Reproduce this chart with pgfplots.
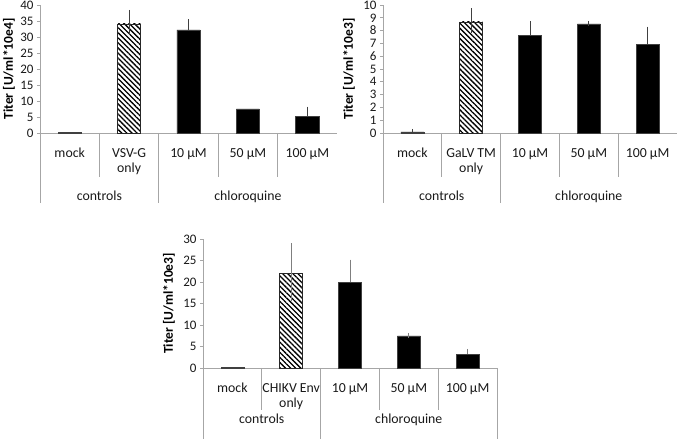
\documentclass[border=0pt]{standalone}
\usepackage{fontspec}
\setmainfont{Carlito}
\usepackage{pgfplots}
\pgfplotsset{compat=1.18}
\usetikzlibrary{patterns.meta}
\definecolor{axgray}{HTML}{A6A6A6}
\definecolor{errgray}{HTML}{404040}
\definecolor{errlight}{HTML}{7F7F7F}
\pgfplotsset{
  titer/.style={
    scale only axis, height=128pt,
    ymin=0, xmin=-0.5, xmax=4.5,
    axis x line=bottom, axis y line=left,
    axis line style={-, draw=axgray, line width=0.8pt},
    xtick={0,...,4}, xtick style={draw=none},
    ytick style={draw=axgray, line width=0.8pt}, tick align=outside, major tick length=3pt,
    /pgf/number format/assume math mode=true,
    yticklabel style={font=\fontsize{13}{15}\selectfont, text=black!90},
    xticklabel style={font=\fontsize{13.8}{15.5}\selectfont, align=center, anchor=north, inner sep=0pt, yshift=-12pt, text=black!90},
    clip=false,
    ybar, bar shift=0pt, bar width=0.39,
  },
  blackbar/.style={fill=black, draw=errgray, line width=0.6pt},
  hatchbar/.style={pattern={Lines[angle=-45,distance=3.6pt,line width=1.3pt]}, draw=black!85, line width=0.7pt},
  errplus/.style={error bars/.cd, y dir=plus, y explicit,
    error bar style={#1, line width=0.7pt},
    error mark options={#1, mark size=2.6pt, line width=0.7pt}},
  errplus/.default=errgray,
  errminus/.style={draw=none, fill=none, error bars/.cd, y dir=minus, y explicit, error mark=none,
    error bar style={#1, line width=0.7pt}},
  errminus/.default=errgray,
}
\tikzset{
  lab/.style={font=\fontsize{13.8}{16}\selectfont, text=black!90, anchor=base},
  ylab/.style={font=\bfseries\fontsize{13.5}{16}\selectfont, rotate=90, anchor=center},
  div/.style={axgray, line width=0.8pt},
}
\begin{document}
\begin{tikzpicture}
\useasboundingbox (0,0) rectangle (678pt,439pt);

% Panel 1
\begin{axis}[titer, at={(40pt,306pt)}, anchor=south west, width=297pt,
  ymax=40, ytick={0,5,...,40},
  xticklabels={mock,{VSV-G\\only},10 µM,50 µM,100 µM}]
\addplot[blackbar] table[x=x,y=y] {
x y
0 0.2
3 7.5
};
\addplot[blackbar, errplus] table[x=x,y=y,y error=e] {
x y e
2 32.2 2.6
4 5.2 2.2
};
\addplot[hatchbar, errplus] table[x=x,y=y,y error=e] {
x y e
1 34.1 3.6
};
\addplot[errminus] table[x=x,y=y,y error=e] {
x y e
1 34.1 3.6
};
\draw[div] (axis cs:0.5,0) -- ([yshift=-44pt]axis cs:0.5,0);
\draw[div] (axis cs:2.5,0) -- ([yshift=-44pt]axis cs:2.5,0);
\draw[div] (axis cs:3.5,0) -- ([yshift=-44pt]axis cs:3.5,0);
\draw[div] (axis cs:-0.5,0) -- ([yshift=-70pt]axis cs:-0.5,0);
\draw[div] (axis cs:1.5,0) -- ([yshift=-70pt]axis cs:1.5,0);
\node[lab] at ([yshift=-67.5pt]axis cs:0.5,0) {controls};
\node[lab] at ([yshift=-67.5pt]axis cs:3,0) {chloroquine};
\node[ylab] at ([xshift=-31pt]axis description cs:0,0.5) {Titer [U/ml*10e4]};
\end{axis}

% Panel 2
\begin{axis}[titer, at={(383pt,306pt)}, anchor=south west, width=294pt,
  ymax=10, ytick={0,1,...,10},
  xticklabels={mock,{GaLV TM\\only},10 µM,50 µM,100 µM}]
\addplot[blackbar, errplus] table[x=x,y=y,y error=e] {
x y e
0 0.08 0.03
2 7.61 0.92
3 8.52 0.03
4 6.9 1.2
};
\addplot[hatchbar, errplus] table[x=x,y=y,y error=e] {
x y e
1 8.68 0.87
};
\addplot[errminus] table[x=x,y=y,y error=e] {
x y e
1 8.68 0.87
};
\draw[div] (axis cs:0.5,0) -- ([yshift=-44pt]axis cs:0.5,0);
\draw[div] (axis cs:2.5,0) -- ([yshift=-44pt]axis cs:2.5,0);
\draw[div] (axis cs:3.5,0) -- ([yshift=-44pt]axis cs:3.5,0);
\draw[div] (axis cs:-0.5,0) -- ([yshift=-70pt]axis cs:-0.5,0);
\draw[div] (axis cs:1.5,0) -- ([yshift=-70pt]axis cs:1.5,0);
\node[lab] at ([yshift=-67.5pt]axis cs:0.5,0) {controls};
\node[lab] at ([yshift=-67.5pt]axis cs:3,0) {chloroquine};
\node[ylab] at ([xshift=-34pt]axis description cs:0,0.5) {Titer [U/ml*10e3]};
\end{axis}

% Panel 3
\begin{axis}[titer, at={(203pt,71pt)}, anchor=south west, width=294pt, height=129pt,
  ymax=30, ytick={0,5,...,30},
  xticklabels={mock,{CHIKV Env\\only},10 µM,50 µM,100 µM}]
\addplot[blackbar] table[x=x,y=y] {
x y
0 0.1
};
\addplot[blackbar, errplus=errlight] table[x=x,y=y,y error=e] {
x y e
2 19.9 4.7
3 7.46 0.12
4 3.2 0.65
};
\addplot[hatchbar, errplus=errlight] table[x=x,y=y,y error=e] {
x y e
1 22.0 6.4
};
\addplot[errminus=errlight] table[x=x,y=y,y error=e] {
x y e
1 22.0 6.4
};
\draw[div] (axis cs:0.5,0) -- ([yshift=-42pt]axis cs:0.5,0);
\draw[div] (axis cs:2.5,0) -- ([yshift=-42pt]axis cs:2.5,0);
\draw[div] (axis cs:3.5,0) -- ([yshift=-42pt]axis cs:3.5,0);
\draw[div] (axis cs:-0.5,0) -- ([yshift=-71pt]axis cs:-0.5,0);
\draw[div] (axis cs:1.5,0) -- ([yshift=-71pt]axis cs:1.5,0);
\draw[div] (axis cs:4.5,0) -- ([yshift=-71pt]axis cs:4.5,0);
\node[lab] at ([yshift=-56pt]axis cs:0.5,0) {controls};
\node[lab] at ([yshift=-56pt]axis cs:3,0) {chloroquine};
\node[ylab] at ([xshift=-34pt]axis description cs:0,0.5) {Titer [U/ml*10e3]};
\end{axis}
\end{tikzpicture}
\end{document}
